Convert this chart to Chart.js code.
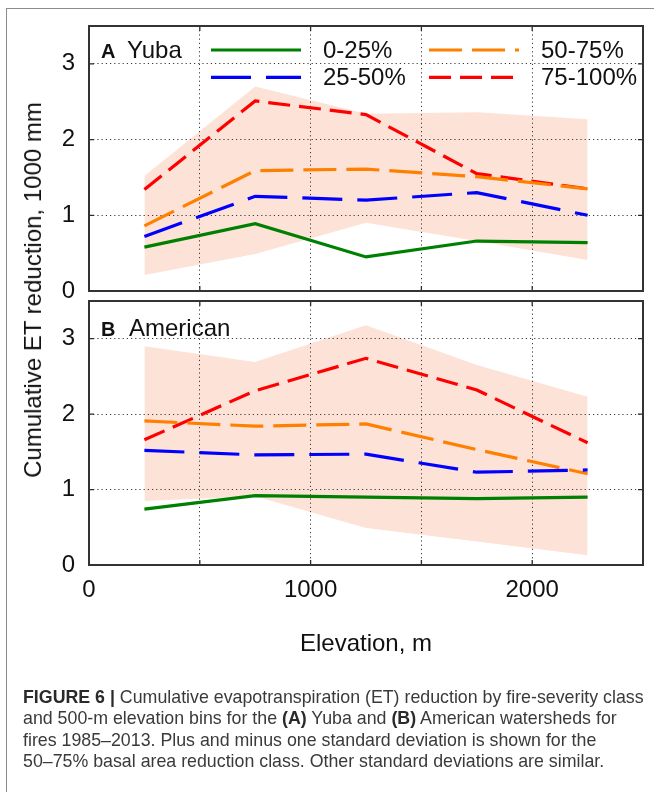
<!DOCTYPE html>
<html>
<head>
<meta charset="utf-8">
<title>Figure 6 – Cumulative ET reduction</title>
<script src="https://cdn.jsdelivr.net/npm/chart.js@4.4.1/dist/chart.umd.min.js"></script>
<style>
  html, body { margin: 0; padding: 0; background: #fff; }
  body { width: 654px; height: 792px; position: relative; overflow: hidden;
         font-family: "Liberation Sans", Arial, sans-serif; }
  #frame { position: absolute; left: 6px; top: 8px; width: 700px; height: 900px;
           border-left: 1.5px solid #8c8c8c; border-top: 1.5px solid #8c8c8c; }
  #chartA { position: absolute; left: 0; top: 0; }
  #chartB { position: absolute; left: 0; top: 296px; }
  #ytitle { position: absolute; left: 33px; top: 290px; transform: translate(-50%, -50%) rotate(-90deg);
            font-size: 24px; color: #111; white-space: nowrap; }
  #caption { position: absolute; left: 23px; top: 687px; font-size: 17.8px; line-height: 21.3px;
             color: #3a3a3a; white-space: nowrap; }
  #caption b { color: #2a2a2a; }
</style>
</head>
<body>
<div id="frame"></div>
<canvas id="chartA" width="654" height="312"></canvas>
<canvas id="chartB" width="654" height="380"></canvas>
<div id="ytitle">Cumulative ET reduction, 1000 mm</div>
<div id="caption"><b>FIGURE 6 |</b> Cumulative evapotranspiration (ET) reduction by fire-severity class<br>and 500-m elevation bins for the <b>(A)</b> Yuba and <b>(B)</b> American watersheds for<br>fires 1985–2013. Plus and minus one standard deviation is shown for the<br>50–75% basal area reduction class. Other standard deviations are similar.</div>
<script>
// ---------------- data ----------------
const elevations = [250, 750, 1250, 1750, 2250];           // elevation bin centres, m
const seriesLabels = ['0-25%', '25-50%', '50-75%', '75-100%'];
const xLabelledTicks = [0, 1000, 2000];
const yTickValues = [0, 1, 2, 3];

// (A) Yuba
const yuba0to25   = [0.58, 0.89, 0.45, 0.66, 0.64];
const yuba25to50  = [0.72, 1.25, 1.20, 1.30, 1.00];
const yuba50to75  = [0.86, 1.59, 1.61, 1.51, 1.35];
const yuba75to100 = [1.34, 2.51, 2.33, 1.55, 1.35];
const yubaSdUpper = [1.52, 2.70, 2.34, 2.36, 2.27];
const yubaSdLower = [0.21, 0.49, 0.90, 0.66, 0.41];

// (B) American
const american0to25   = [0.74, 0.92, 0.90, 0.88, 0.90];
const american25to50  = [1.52, 1.46, 1.47, 1.23, 1.26];
const american50to75  = [1.91, 1.84, 1.87, 1.53, 1.21];
const american75to100 = [1.66, 2.31, 2.74, 2.32, 1.62];
const americanSdUpper = [2.90, 2.69, 3.18, 2.65, 2.23];
const americanSdLower = [0.85, 0.91, 0.49, 0.31, 0.13];

// ---------------- styling ----------------
const FONT = '"Liberation Sans", Arial, sans-serif';
Chart.defaults.font.family = FONT;
Chart.defaults.color = '#111';

const lineStyles = [
  { color: '#008000', dash: [] },
  { color: '#0000ff', dash: [40, 15] },
  { color: '#ff8000', dash: [33, 10] },
  { color: '#ff0000', dash: [22, 9] }
];
const bandColor = '#fde2d7';

const toPts = arr => arr.map((v, i) => ({ x: elevations[i], y: v }));

function buildDatasets(series, upper, lower) {
  const ds = series.map((vals, i) => ({
    label: seriesLabels[i],
    data: toPts(vals),
    borderColor: lineStyles[i].color,
    borderDash: lineStyles[i].dash,
    borderWidth: 3.2,
    borderCapStyle: 'butt',
    pointRadius: 0,
    tension: 0,
    fill: false
  }));
  ds.push({
    label: 'SD upper', data: toPts(upper), borderColor: 'rgba(0,0,0,0)', borderWidth: 0,
    pointRadius: 0, backgroundColor: bandColor, fill: '+1'
  });
  ds.push({
    label: 'SD lower', data: toPts(lower), borderColor: 'rgba(0,0,0,0)', borderWidth: 0,
    pointRadius: 0, fill: false
  });
  return ds;
}

// frame box + inward ticks
const frameTicks = {
  id: 'frameTicks',
  afterDraw(chart) {
    const { ctx, chartArea: a, scales: { x, y } } = chart;
    ctx.save();
    ctx.setLineDash([]);
    ctx.strokeStyle = '#2b2b2b';
    ctx.lineWidth = 1.3;
    const L = 5;
    ctx.beginPath();
    x.ticks.forEach(t => {
      const px = x.getPixelForValue(t.value);
      if (px <= a.left + 1 || px >= a.right - 1) return;
      ctx.moveTo(px, a.bottom); ctx.lineTo(px, a.bottom - L);
      ctx.moveTo(px, a.top); ctx.lineTo(px, a.top + L);
    });
    y.ticks.forEach(t => {
      const py = y.getPixelForValue(t.value);
      if (py >= a.bottom - 1 || py <= a.top + 1) return;
      ctx.moveTo(a.left, py); ctx.lineTo(a.left + L, py);
      ctx.moveTo(a.right, py); ctx.lineTo(a.right - L, py);
    });
    ctx.stroke();
    ctx.lineWidth = 2;
    ctx.strokeStyle = '#333';
    ctx.strokeRect(a.left, a.top, a.right - a.left, a.bottom - a.top);
    ctx.restore();
  }
};

// panel label and in-plot legend
const panelText = {
  id: 'panelText',
  afterDatasetsDraw(chart, args, opts) {
    const { ctx, chartArea: a } = chart;
    ctx.save();
    ctx.fillStyle = '#111';
    ctx.textBaseline = 'alphabetic';
    ctx.textAlign = 'left';
    ctx.font = 'bold 20px ' + FONT;
    ctx.fillText(opts.letter, a.left + 12, a.top + opts.baseline);
    ctx.font = '24px ' + FONT;
    ctx.fillText(opts.name, a.left + opts.nameX, a.top + opts.baseline);
    if (opts.legend) {
      const cols = [122, 340];           // sample start offsets from plot left
      const rows = [24, 51.3];           // sample y offsets from plot top
      const sampleLen = 90;
      chart.data.datasets.slice(0, 4).forEach((d, i) => {
        const col = Math.floor(i / 2), row = i % 2;
        const sx = a.left + cols[col], sy = a.top + rows[row];
        ctx.save();
        ctx.strokeStyle = d.borderColor;
        ctx.lineWidth = d.borderWidth;
        ctx.lineCap = 'butt';
        ctx.setLineDash(d.borderDash || []);
        ctx.beginPath();
        ctx.moveTo(sx, sy); ctx.lineTo(sx + sampleLen, sy);
        ctx.stroke();
        ctx.restore();
        ctx.font = '24px ' + FONT;
        ctx.fillStyle = '#111';
        ctx.fillText(d.label, sx + 112, sy + 7.5);
      });
    }
    ctx.restore();
  }
};

function makeChart(canvasId, datasets, isBottom, textOpts, pad) {
  return new Chart(document.getElementById(canvasId), {
    type: 'line',
    data: { datasets },
    plugins: [frameTicks, panelText],
    options: {
      responsive: false,
      animation: false,
      devicePixelRatio: 1,
      layout: { padding: { top: pad.top, right: 11, left: 0, bottom: 0 } },
      plugins: {
        legend: { display: false },
        tooltip: { enabled: false },
        filler: { drawTime: 'beforeDraw' },
        panelText: textOpts
      },
      scales: {
        x: {
          type: 'linear', min: 0, max: 2500,
          ticks: {
            stepSize: 500, display: isBottom, padding: 11, autoSkip: false, maxRotation: 0,
            font: { size: 24 }, color: '#111',
            callback: v => xLabelledTicks.includes(v) ? String(v) : ''
          },
          grid: { color: '#3a3a3a', lineWidth: 1, drawTicks: false },
          border: { display: false, dash: [1.2, 3] },
          title: {
            display: isBottom, text: 'Elevation, m', color: '#111',
            font: { size: 24 }, padding: { top: 0, bottom: 17.6 }
          },
          afterFit: s => { s.height = pad.xHeight; s.paddingLeft = 0; s.paddingRight = 0; }
        },
        y: {
          min: 0, max: 3.5,
          ticks: {
            stepSize: 1, includeBounds: false, padding: 14, font: { size: 24 }, color: '#111',
            callback: v => yTickValues.includes(v) ? String(v) : ''
          },
          grid: { color: '#3a3a3a', lineWidth: 1, drawTicks: false },
          border: { display: false, dash: [1.2, 3] },
          afterFit: s => { s.width = 89; s.paddingTop = 0; s.paddingBottom = 0; }
        }
      }
    }
  });
}

makeChart('chartA',
  buildDatasets([yuba0to25, yuba25to50, yuba50to75, yuba75to100], yubaSdUpper, yubaSdLower),
  false,
  { letter: 'A', name: 'Yuba', nameX: 38, baseline: 31.5, legend: true },
  { top: 26, xHeight: 21 });

makeChart('chartB',
  buildDatasets([american0to25, american25to50, american50to75, american75to100], americanSdUpper, americanSdLower),
  true,
  { letter: 'B', name: 'American', nameX: 40, baseline: 34.7, legend: false },
  { top: 5, xHeight: 111 });
</script>
</body>
</html>
